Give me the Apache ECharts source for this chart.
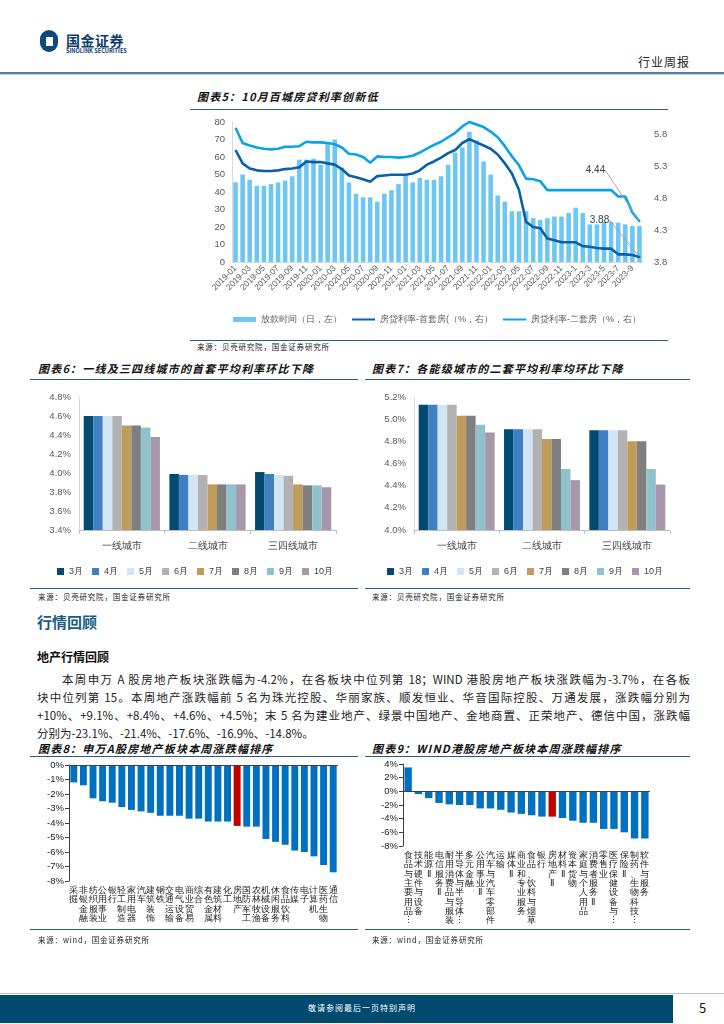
<!DOCTYPE html>
<html><head><meta charset="utf-8">
<script src="https://cdn.jsdelivr.net/npm/echarts@6.0.0/dist/echarts.min.js"></script>
<style>
body{margin:0;background:#fff;font-family:"Noto Sans CJK SC","Noto Sans",sans-serif;}
#page{position:relative;width:724px;height:1024px;overflow:hidden;background:#fff;}
.t{position:absolute;white-space:nowrap;line-height:1;}
.title{position:absolute;white-space:nowrap;line-height:1;font-size:11px;font-weight:bold;font-style:italic;color:#111;letter-spacing:1.2px;}
.rule{position:absolute;height:0;border-top:1.5px solid #2b5c82;}
.src{position:absolute;white-space:nowrap;line-height:1;font-size:7.5px;color:#222;letter-spacing:0.8px;}
.chart{position:absolute;}
.para{position:absolute;left:37px;width:653px;font-size:11.5px;line-height:1;color:#222;white-space:nowrap;}
.j{text-align:justify;text-align-last:justify;}
</style></head>
<body><div id="page">
<!-- header -->
<div class="t" style="left:40px;top:30px;width:18px;height:22px;border-radius:9px;background:#0b4a7a;"></div>
<div class="t" style="left:46px;top:37px;width:7px;height:9px;background:#fff;"></div>
<div class="t" style="left:66px;top:33px;font-size:14px;font-weight:bold;color:#0d3c6e;letter-spacing:0.5px;">国金证券</div>
<div class="t" style="left:66px;top:49px;font-size:5.6px;font-weight:bold;color:#0d3c6e;">SINOLINK SECURITIES</div>
<div class="t" style="left:638px;top:56px;font-size:12px;color:#222;letter-spacing:1px;">行业周报</div>
<div class="t" style="left:0;top:72px;width:724px;height:2px;background:#4f7fa3;"></div>
<div class="t" style="left:0;top:74px;width:724px;height:1px;background:#c9d6e0;"></div>

<!-- chart 5 -->
<div class="title" style="left:197px;top:91px;">图表5：10月百城房贷利率创新低</div>
<div class="rule" style="left:190px;top:109px;width:478px;"></div>
<div id="c5" class="chart" style="left:190px;top:112px;width:480px;height:226px;"></div>
<div class="rule" style="left:190px;top:340px;width:478px;"></div>
<div class="src" style="left:197px;top:343px;">来源：贝壳研究院，国金证券研究所</div>

<!-- chart 6 / 7 -->
<div class="title" style="left:38px;top:363px;">图表6：一线及三四线城市的首套平均利率环比下降</div>
<div class="rule" style="left:30px;top:379px;width:328px;"></div>
<div id="c6" class="chart" style="left:30px;top:382px;width:330px;height:204px;"></div>
<div class="rule" style="left:30px;top:588px;width:328px;"></div>
<div class="src" style="left:38px;top:593px;">来源：贝壳研究院，国金证券研究所</div>

<div class="title" style="left:372px;top:363px;">图表7：各能级城市的二套平均利率均环比下降</div>
<div class="rule" style="left:365px;top:379px;width:325px;"></div>
<div id="c7" class="chart" style="left:360px;top:382px;width:330px;height:204px;"></div>
<div class="rule" style="left:365px;top:588px;width:325px;"></div>
<div class="src" style="left:372px;top:593px;">来源：贝壳研究院，国金证券研究所</div>

<!-- text -->
<div class="t" style="left:37px;top:614px;font-size:15px;font-weight:bold;color:#1a5b86;">行情回顾</div>
<div class="t" style="left:37px;top:651px;font-size:12px;font-weight:bold;color:#111;">地产行情回顾</div>
<div class="para j" style="top:674px;left:62px;width:628px;">本周申万 A 股房地产板块涨跌幅为-4.2%，在各板块中位列第 18；WIND 港股房地产板块涨跌幅为-3.7%，在各板</div>
<div class="para j" style="top:692px;">块中位列第 15。本周地产涨跌幅前 5 名为珠光控股、华丽家族、顺发恒业、华音国际控股、万通发展，涨跌幅分别为</div>
<div class="para j" style="top:710px;">+10%、+9.1%、+8.4%、+4.6%、+4.5%；末 5 名为建业地产、绿景中国地产、金地商置、正荣地产、德信中国，涨跌幅</div>
<div class="para" style="top:728px;">分别为-23.1%、-21.4%、-17.6%、-16.9%、-14.8%。</div>

<!-- chart 8 / 9 -->
<div class="title" style="left:38px;top:743px;">图表8：申万A股房地产板块本周涨跌幅排序</div>
<div class="rule" style="left:30px;top:756px;width:328px;"></div>
<div id="c8" class="chart" style="left:30px;top:758px;width:340px;height:172px;"></div>
<div class="rule" style="left:30px;top:929px;width:328px;"></div>
<div class="src" style="left:38px;top:936px;">来源：wind，国金证券研究所</div>

<div class="title" style="left:372px;top:743px;">图表9：WIND港股房地产板块本周涨跌幅排序</div>
<div class="rule" style="left:365px;top:756px;width:325px;"></div>
<div id="c9" class="chart" style="left:365px;top:758px;width:340px;height:176px;"></div>
<div class="rule" style="left:365px;top:929px;width:325px;"></div>
<div class="src" style="left:372px;top:936px;">来源：wind，国金证券研究所</div>

<!-- footer -->
<div class="t" style="left:0;top:993px;width:724px;height:1px;background:#b8c8d6;"></div>
<div class="t" style="left:0;top:995px;width:673px;height:28px;background:#004a70;"></div>
<div class="t" style="left:0;top:1004px;width:724px;text-align:center;font-size:8px;color:#fff;letter-spacing:1px;">敬请参阅最后一页特别声明</div>
<div class="t" style="left:699px;top:1001px;font-size:13px;color:#111;">5</div>
</div>
<script>
// ---------- chart 5 data ----------
const dates = ['2019-01','2019-02','2019-03','2019-04','2019-05','2019-06','2019-07','2019-08','2019-09','2019-10','2019-11','2019-12',
'2020-01','2020-02','2020-03','2020-04','2020-05','2020-06','2020-07','2020-08','2020-09','2020-10','2020-11','2020-12',
'2021-01','2021-02','2021-03','2021-04','2021-05','2021-06','2021-07','2021-08','2021-09','2021-10','2021-11','2021-12',
'2022-01','2022-02','2022-03','2022-04','2022-05','2022-06','2022-07','2022-08','2022-09','2022-10','2022-11','2022-12',
'2023-1','2023-2','2023-3','2023-4','2023-5','2023-6','2023-7','2023-8','2023-9','2023-10'];
const loanDays = [45.5,50,47,43.5,43.5,44.5,45.5,46.5,49,58.5,58.5,59,
55.5,68.5,70,54,45.5,39,37,37,34.5,39,41,44.5,
49.5,45.5,48,47,47,49,55.5,62.5,65.5,74.5,69.5,57.5,
50,38,34.5,29,29,29,25,24,25,26,26,28,
31,28,21.5,21.5,23,23,22.5,21.5,20.5,20.5];
const firstRate = [5.56,5.35,5.27,5.24,5.23,5.23,5.24,5.26,5.27,5.29,5.38,5.37,
5.37,5.35,5.33,5.26,5.16,5.13,5.10,5.06,5.15,5.16,5.17,5.17,
5.17,5.19,5.24,5.33,5.38,5.44,5.51,5.56,5.67,5.73,5.68,5.63,
5.58,5.49,5.35,5.19,4.93,4.43,4.35,4.33,4.17,4.14,4.11,4.11,
4.11,4.05,4.04,4.02,4.01,4.01,3.92,3.92,3.91,3.88];
const secondRate = [5.91,5.67,5.63,5.60,5.58,5.57,5.58,5.61,5.61,5.62,5.69,5.68,
5.68,5.67,5.65,5.60,5.50,5.49,5.45,5.36,5.46,5.45,5.45,5.44,
5.45,5.47,5.52,5.58,5.64,5.69,5.76,5.83,5.93,6.00,5.96,5.92,
5.85,5.76,5.62,5.46,5.32,5.11,5.10,5.07,4.93,4.93,4.93,4.93,
4.93,4.93,4.93,4.93,4.93,4.93,4.83,4.83,4.58,4.44];
const rightTicks = [3.8,4.3,4.8,5.3,5.8];

// ---------- chart 6 / 7 data ----------
const months = ['3月','4月','5月','6月','7月','8月','9月','10月'];
const cities = ['一线城市','二线城市','三四线城市'];
const first_tier1 = [4.60,4.60,4.60,4.60,4.50,4.50,4.48,4.38];
const first_tier2 = [3.99,3.98,3.98,3.98,3.88,3.88,3.88,3.88];
const first_tier34 = [4.01,3.99,3.98,3.97,3.88,3.87,3.87,3.85];
const second_tier1 = [5.13,5.13,5.13,5.13,5.03,5.03,4.95,4.88];
const second_tier2 = [4.91,4.91,4.91,4.91,4.82,4.82,4.55,4.45];
const second_tier34 = [4.90,4.90,4.90,4.90,4.80,4.80,4.55,4.41];

// ---------- chart 8 / 9 data ----------
const swCats = ['采掘','非银金融','纺织服装','公用事业','银行','轻工制造','家用电器','汽车','建筑装饰','钢铁','交通运输','电气设备','商业贸易','综合','有色金属','建筑材料','化工','房地产','国防军工','农林牧渔','机械设备','休闲服务','食品饮料','传媒','电子','计算机','医药生物','通信'];
const swChg = [-1.2,-1.4,-2.3,-2.5,-2.6,-2.9,-3.1,-3.2,-3.3,-3.5,-3.5,-3.5,-3.7,-3.7,-3.9,-3.9,-3.9,-4.2,-4.25,-4.25,-5.1,-5.3,-5.5,-5.9,-6.0,-6.3,-6.9,-7.4];
const hkCats = ['食品与主要用品…','技术硬件与设备','能源Ⅱ','电信服务Ⅱ','耐用消费品与服装','半导体与半导体…','多元金融','公用事业Ⅱ','汽车与汽车零部件','运输','媒体Ⅱ','商业和专业服务','食品、饮料与烟草','银行','房地产Ⅱ','材料Ⅱ','资本货物','家庭与个人用品','消费者服务Ⅱ','零售业','医疗保健设备与…','保险Ⅱ','制药、生物科技…','软件与服务'];
const hkChg = [3.5,-0.4,-1.0,-1.7,-1.9,-2.0,-2.0,-2.5,-2.5,-2.7,-3.1,-3.3,-3.5,-3.7,-3.7,-3.9,-4.3,-4.6,-4.6,-5.5,-5.5,-6.0,-6.9,-6.9];

const gray = '#595959';
const noBounds = {outerBoundsMode:'none', containLabel:false};

// ---------- chart 5 ----------
const lastLabel = arr => arr.map((v,i)=> i===arr.length-1
  ? {value:v,symbol:'circle',symbolSize:2,label:{show:true}} : {value:v,symbol:'none'});
const hideDot = {color:'rgba(0,0,0,0)',borderWidth:0};
const c5 = echarts.init(document.getElementById('c5'));
c5.setOption({
  animation:false,
  grid:Object.assign({left:42,right:27,top:10,bottom:76},noBounds),
  legend:{top:198,left:38,width:440,itemWidth:23,itemHeight:5,itemGap:9,
    textStyle:{fontSize:9,color:gray},
    data:[{name:'放款时间（日，左）',icon:'rect'},
          {name:'房贷利率-首套房(（%，右）',itemStyle:hideDot},
          {name:'房贷利率-二套房（%，右）',itemStyle:hideDot}]},
  xAxis:{type:'category',data:dates,axisLine:{lineStyle:{color:'#d9d9d9'}},axisTick:{show:false},
    axisLabel:{interval:1,rotate:45,fontSize:8.5,color:gray,margin:5}},
  yAxis:[
    {type:'value',min:0,max:80,interval:10,splitLine:{show:false},axisLine:{show:true,lineStyle:{color:'#d9d9d9'}},
     axisLabel:{fontSize:9.5,color:gray,margin:7}},
    {type:'value',min:rightTicks[0],max:6.0,interval:0.5,splitLine:{show:false},axisLine:{show:false},axisTick:{show:false},
     axisLabel:{fontSize:9.5,color:gray,showMaxLabel:false,margin:11,formatter:v=>v.toFixed(1)}}
  ],
  series:[
    {type:'bar',name:'放款时间（日，左）',data:loanDays,barCategoryGap:'35%',itemStyle:{color:'#6dc7f2'}},
    {type:'line',name:'房贷利率-首套房(（%，右）',yAxisIndex:1,data:lastLabel(firstRate),symbol:'circle',symbolSize:2,
     showSymbol:true,showAllSymbol:true,clip:false,
     lineStyle:{width:2.6,color:'#0a5fa9'},itemStyle:{color:'#0a5fa9'},
     label:{show:false,position:'inside',fontSize:10,color:'#404040',formatter:p=>Number(p.value).toFixed(2)},
     labelLine:{show:true,lineStyle:{color:'#a6a6a6',width:1}},labelLayout:{dx:-40,dy:-37}},
    {type:'line',name:'房贷利率-二套房（%，右）',yAxisIndex:1,data:lastLabel(secondRate),symbol:'circle',symbolSize:2,
     showSymbol:true,showAllSymbol:true,clip:false,
     lineStyle:{width:2.6,color:'#0aa3e8'},itemStyle:{color:'#0aa3e8'},
     label:{show:false,position:'inside',fontSize:10,color:'#404040',formatter:p=>Number(p.value).toFixed(2)},
     labelLine:{show:true,lineStyle:{color:'#a6a6a6',width:1}},labelLayout:{dx:-44,dy:-51}}
  ]
});

// ---------- chart 6 / 7 ----------
const monthColors = ['#024a72','#3f80c2','#d3e5f5','#b2b2b2','#bf9c5a','#7f7f7f','#8fc2ca','#a797aa'];
function groupedOpt(t1,t2,t34,min,max,left,right){
  return {
    animation:false,
    grid:Object.assign({left:left,right:right,top:15,bottom:56},noBounds),
    legend:{top:180,left:'center',icon:'rect',itemWidth:7,itemHeight:7,itemGap:9,textStyle:{fontSize:9,color:'#404040'}},
    xAxis:{type:'category',data:cities,axisLine:{lineStyle:{color:'#bfbfbf'}},
      axisTick:{show:true,length:4,lineStyle:{color:'#bfbfbf'}},axisLabel:{fontSize:10,color:'#404040',margin:11}},
    yAxis:{type:'value',min:min,max:max,interval:0.2,splitLine:{show:false},
      axisLine:{show:true,lineStyle:{color:'#d9d9d9'}},axisLabel:{fontSize:9.5,color:gray,formatter:v=>v.toFixed(1)+'%'}},
    series:months.map((m,i)=>({type:'bar',name:m,data:[t1[i],t2[i],t34[i]],barGap:0,barCategoryGap:'11%',
      itemStyle:{color:monthColors[i]}}))
  };
}
echarts.init(document.getElementById('c6')).setOption(groupedOpt(first_tier1,first_tier2,first_tier34,3.4,4.8,49,24));
echarts.init(document.getElementById('c7')).setOption(groupedOpt(second_tier1,second_tier2,second_tier34,4.0,5.2,54,20));

// ---------- chart 8 / 9 ----------
function rankOpt(cats,vals,hl,min,max,interval,grid,fs,lh){
  return {
    animation:false,
    grid:Object.assign(grid,noBounds),
    xAxis:{type:'category',data:cats,axisLine:{show:false,onZero:false},axisTick:{show:false},
      axisLabel:{interval:0,fontSize:fs,lineHeight:lh,color:'#222',margin:5,hideOverlap:false,
        formatter:s=>s.replace('…','⋮').split('').join('\n')}},
    yAxis:{type:'value',min:min,max:max,interval:interval,splitLine:{show:false},
      axisLine:{show:true,lineStyle:{color:'#404040'}},axisTick:{show:true,length:4,lineStyle:{color:'#404040'}},
      axisLabel:{fontSize:9.5,color:'#222',margin:5,formatter:'{value}%'}},
    series:[{type:'bar',data:vals,barCategoryGap:'28%',
      itemStyle:{color:p=>p.name===hl?'#c00000':'#0070c0'},
      markLine:{silent:true,symbol:'none',label:{show:false},lineStyle:{color:'#404040',type:'solid',width:1},data:[{yAxis:0}]}}]
  };
}
echarts.init(document.getElementById('c8')).setOption(rankOpt(swCats,swChg,'房地产',-8,0,1,{left:39,right:32,top:7,bottom:49},9,9.3));
echarts.init(document.getElementById('c9')).setOption(rankOpt(hkCats,hkChg,'房地产Ⅱ',-8,4,2,{left:38,right:55,top:6,bottom:88},9,9.3));
</script>
</body></html>
